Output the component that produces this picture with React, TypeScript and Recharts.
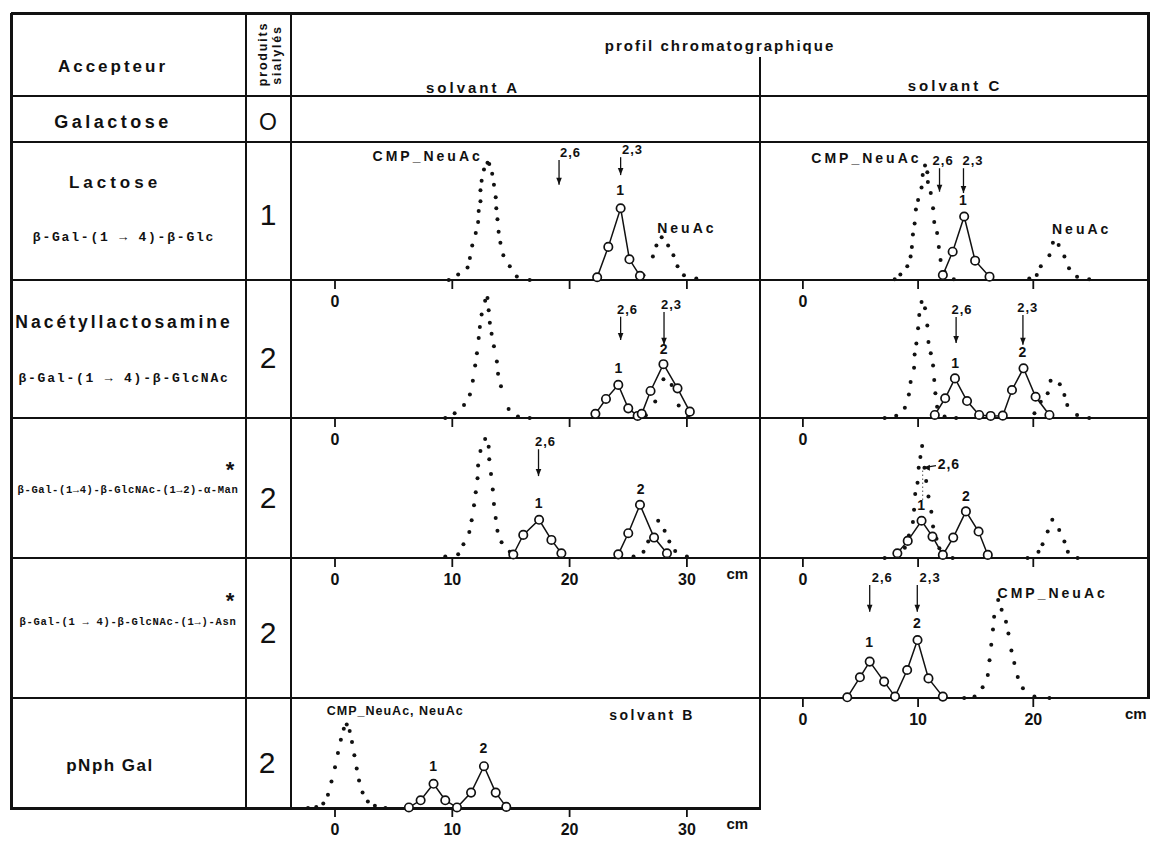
import React from 'react';
import { ComposedChart, Line, XAxis, YAxis, ReferenceLine, ReferenceDot } from 'recharts';

// Chromatographic profiles: [migration distance (cm), relative radioactivity (%)]
// Dotted profiles = reference compounds, open circles = sialylated products.

// Lactose, solvent A
const lacA_cmp = [[9.7,0],[10.5,4],[11.3,9],[11.5,16],[11.7,25],[12.0,34],[12.2,42],[12.25,50],[12.4,57],[12.4,65],[12.5,72],[12.7,80],[13.0,85],[13.15,84],[13.4,77],[13.55,69],[13.7,60],[13.75,52],[13.85,44],[13.95,35],[14.1,27],[14.35,18],[14.9,10],[15.5,2.5],[16.6,0]];
const lacA_prod = [[22.35,2],[23.3,24],[24.35,52],[25.1,15],[26.0,3]];
const lacA_neuac = [[26.3,3.5],[27.1,17],[27.4,25],[27.85,31],[28.4,25],[28.85,18],[29.2,10],[29.75,3.5],[30.8,1]];

// Lactose, solvent C
const lacC_cmp = [[7.97,0.5],[8.46,4],[9.06,10],[9.35,17],[9.46,24],[9.55,33],[9.7,41],[9.81,51],[10.0,58],[10.3,67],[10.4,76],[10.6,83],[10.8,78],[10.85,71],[11.1,63],[11.3,52],[11.4,42],[11.65,34],[11.8,24],[11.95,14.5],[12.3,6],[13.1,0.5]];
const lacC_prod = [[12.15,3.6],[13.0,20.5],[14.0,46],[14.95,14],[16.2,2.4]];
const lacC_neuac = [[19.65,1],[20.3,3.6],[20.65,10],[21.4,18],[21.7,27],[22.2,25.4],[22.7,17],[23.1,8.5],[23.8,2.4],[24.85,0.5]];

// N-acetyllactosamine, solvent A
const nacA_cmp = [[9.4,0],[10.2,3.4],[11.0,9.4],[11.5,17],[11.75,27],[11.95,38],[12.1,47],[12.25,58],[12.35,66],[12.5,75],[12.8,85],[13.0,87],[13.1,78],[13.2,69],[13.35,61],[13.55,52],[13.8,41],[13.9,32],[14.15,23],[14.8,6.5],[15.6,1],[16.6,0]];
const nacA_neuac = [[26.5,2],[27.3,12],[28.0,28],[28.7,24],[29.3,9],[30.1,1]];
const nacA_prod = [[22.2,3],[23.1,13.8],[24.15,24],[25.0,7],[25.8,1.5],[26.15,3],[26.9,19.6],[28.0,39],[29.2,21.5],[30.25,4.6]];

// N-acetyllactosamine, solvent C
const nacC_cmp = [[7.1,0],[8.1,1.7],[8.85,7.5],[9.2,17],[9.35,26],[9.65,36.5],[9.7,46],[9.85,54],[10.0,65],[10.1,74.6],[10.3,84],[10.6,79.5],[10.8,67],[10.9,55],[11.1,47],[11.3,38],[11.4,27.5],[11.5,18],[11.65,8.2],[12.3,1],[13.3,0]];
const nacC_neuac = [[20.1,3.4],[20.65,11.8],[21.25,18],[21.5,27],[22.3,24.4],[22.7,16.7],[22.95,9.4],[23.8,2.2],[24.85,0]];
const nacC_prod = [[11.45,2.2],[12.35,14.3],[13.2,28.7],[14.25,12.3],[15.3,2.2],[16.3,1.5],[17.35,1.7],[18.15,20.3],[19.15,36],[20.2,15.4],[21.4,2.2]];

// Gal-GlcNAc-Man, solvent A
const manA_cmp = [[9.4,1],[10.5,2.6],[10.95,9.8],[11.45,18.5],[11.65,27],[11.85,37.6],[12.0,47],[12.15,57],[12.2,66],[12.4,76.5],[12.8,85],[13.1,79.4],[13.15,70.5],[13.3,60],[13.45,49],[13.55,38.6],[13.7,28.6],[13.85,19.4],[14.2,11.3],[14.9,4.5]];
const manA_neuac = [[25.45,1],[26.3,4.5],[26.7,11.7],[27.55,26.6],[28.1,19.4],[28.5,11.7],[29.0,5],[30.0,1]];
const manA_prod1 = [[15.2,2.5],[16.05,16.5],[17.4,27.3],[18.45,12.9],[19.3,3.4]];
const manA_prod2 = [[24.15,2.6],[25.0,17.7],[26.0,38],[27.2,14.6],[28.3,3.4]];

// Gal-GlcNAc-Man, solvent C
const manC_cmp = [[7.1,0],[8.1,1.7],[8.85,7.4],[9.2,16],[9.55,25.7],[9.65,34.5],[9.75,45.8],[9.95,53.7],[10.05,64.5],[10.2,72.2],[10.35,80],[10.55,64.5],[10.7,55],[10.9,44],[11.15,33],[11.3,22.5],[11.6,13.7],[11.85,7],[13.0,0]];
const manC_neuac = [[19.5,0],[20.45,4.5],[20.8,9.8],[21.25,18.9],[21.65,27.3],[22.25,20],[22.7,11.7],[23.0,4.5],[23.85,0]];
const manC_prod = [[8.2,3.4],[9.1,12.2],[10.3,26.6],[11.25,15.3],[12.15,2.2],[13.05,14.6],[14.15,33.3],[15.25,18.9],[16.05,2.2]];

// Gal-GlcNAc-Asn, solvent C
const asnC_prod = [[3.85,0.5],[4.95,14.8],[5.8,26],[7.05,11.7],[8.0,1],[9.05,20],[9.95,41.4],[10.9,14],[12.15,1]];
const asnC_cmp = [[14.0,0],[14.9,1],[15.6,7.6],[16.05,16.4],[16.2,27],[16.35,38],[16.5,49],[16.6,58],[16.95,70],[17.25,63],[17.63,54.5],[17.84,46],[18.1,34],[18.35,25],[18.65,15],[19.1,7],[20.1,1],[21.4,0]];

// pNph Gal, solvent B
const pnB_cmp = [[-2.3,0],[-1.6,1],[-1.0,4],[-0.6,12],[-0.3,24],[0.0,37],[0.25,50],[0.5,62],[0.75,72],[1.0,76],[1.25,70],[1.45,60],[1.65,48],[1.85,36],[2.05,25],[2.35,14],[2.8,6],[3.4,2],[4.3,0]];
const pnB_prod = [[6.3,0.5],[7.3,7],[8.4,22],[9.4,7],[10.4,0.5],[11.6,14],[12.7,38],[13.7,14],[14.6,1]];

// Standards (arrows): position (cm), arrow start / tip (%), name and where the name starts (cm)
const lacA_std = [{ x: 19.1, from: 87, to: 69, text: '2,6', tx: 19.18 }, { x: 24.35, from: 89, to: 76, text: '2,3', tx: 24.47 }];
const lacC_std = [{ x: 11.86, from: 81, to: 64, text: '2,6', tx: 11.26 }, { x: 13.94, from: 81, to: 63, text: '2,3', tx: 13.85 }];
const nacA_std = [{ x: 24.35, from: 73.4, to: 56.5, text: '2,6', tx: 24.04 }, { x: 28.05, from: 76.8, to: 53, text: '2,3', tx: 27.79 }];
const nacC_std = [{ x: 13.3, from: 73.2, to: 54.3, text: '2,6', tx: 12.9 }, { x: 19.1, from: 74.6, to: 53, text: '2,3', tx: 18.6 }];
const manA_std = [{ x: 17.35, from: 77.7, to: 58.5, text: '2,6', tx: 17.05 }];
const asnC_std = [{ x: 5.8, from: 80.7, to: 61.6, text: '2,6', tx: 5.97 }, { x: 9.93, from: 80.7, to: 61.6, text: '2,3', tx: 10.13 }];

// Peak names
const lacA_names = [{ x: 12.6, y: 90, text: 'CMP_NeuAc', align: 'end' }, { x: 24.35, y: 65, text: '1' }, { x: 30.0, y: 38, text: 'NeuAc' }];
const lacC_names = [{ x: 10.3, y: 88.4, text: 'CMP_NeuAc', align: 'end' }, { x: 13.94, y: 58, text: '1' }, { x: 24.2, y: 37, text: 'NeuAc' }];
const nacA_names = [{ x: 24.2, y: 36.2, text: '1' }, { x: 28.05, y: 50, text: '2' }];
const nacC_names = [{ x: 13.25, y: 40, text: '1' }, { x: 19.1, y: 47.8, text: '2' }];
const manA_names = [{ x: 17.4, y: 39.6, text: '1' }, { x: 26.1, y: 49.6, text: '2' }];
const manC_names = [{ x: 10.3, y: 38, text: '1' }, { x: 14.2, y: 44, text: '2' }, { x: 11.7, y: 67, text: '2,6', align: 'start' }];
const asnC_names = [{ x: 5.8, y: 40, text: '1' }, { x: 9.95, y: 53.6, text: '2' }, { x: 16.9, y: 75, text: 'CMP_NeuAc', align: 'start' }];
const pnB_names = [{ x: 8.4, y: 38, text: '1' }, { x: 12.7, y: 55, text: '2' }, { x: -0.7, y: 88, text: 'CMP_NeuAc, NeuAc', align: 'start' }];

// Axis ticks (cm)
const ticksA = [0, 10, 20, 30];
const ticksC = [0, 10, 20];
const zeroOnly = [0];

const SANS = '"Liberation Sans", Arial, Helvetica, sans-serif';
const MONO = '"Liberation Mono", "DejaVu Sans Mono", monospace';
const INK = '#111';
const AXIS_H = 36;

// x scales of the two columns (cm shown across each panel)
const DOMAIN_A: [number, number] = [(291 - 335) / 11.73, (760 - 335) / 11.73];
const DOMAIN_C: [number, number] = [(760 - 803) / 11.55, (1149 - 803) / 11.55];

const toPts = (a: number[][]) => a.map(([x, y]) => ({ x, y }));

function Panel(props: any) {
  const { left, top, width, height, domain, ticks, tickLabels, unitAt, dotted = [], traces = [], arrows = [], names = [], pointer, nameSize = 14 } = props;
  const allTicks = unitAt != null ? [...ticks, unitAt] : ticks;
  const renderTick = (p: any) => {
    const v = p.payload.value;
    if (unitAt != null && v === unitAt) {
      return (
        <text x={p.x} y={height + 15} textAnchor="middle" dominantBaseline="central" fontFamily={SANS} fontWeight={700} fontSize={15} fill={INK}>cm</text>
      );
    }
    return (
      <g>
        <line x1={p.x} x2={p.x} y1={height} y2={height + 9} stroke={INK} strokeWidth={1.8} />
        {tickLabels.includes(v) && (
          <text x={p.x} y={height + 21} textAnchor="middle" dominantBaseline="central" fontFamily={SANS} fontWeight={700} fontSize={16} fill={INK}>{v}</text>
        )}
      </g>
    );
  };
  const textStyle = { letterSpacing: nameSize > 13 ? '3px' : '1px' };
  return (
    <div style={{ position: 'absolute', left, top }}>
      <ComposedChart width={width} height={height + AXIS_H} margin={{ top: 0, right: 0, bottom: 0, left: 0 }}>
        <XAxis type="number" dataKey="x" domain={domain} ticks={allTicks} interval={0} axisLine={false} tickLine={false} height={AXIS_H} tick={renderTick} />
        <YAxis type="number" domain={[0, 100]} hide />
        {dotted.map((d: number[][], i: number) => (
          <Line key={'d' + i} data={toPts(d)} dataKey="y" type="linear" stroke="none" dot={{ r: 2, fill: INK, stroke: 'none' }} activeDot={false} isAnimationActive={false} />
        ))}
        {traces.map((d: number[][], i: number) => (
          <Line key={'t' + i} data={toPts(d)} dataKey="y" type="linear" stroke={INK} strokeWidth={1.5} dot={{ r: 4.2, fill: '#fff', stroke: INK, strokeWidth: 1.7 }} activeDot={false} isAnimationActive={false} />
        ))}
        {arrows.map((a: any, i: number) => (
          <ReferenceLine key={'al' + i} segment={[{ x: a.x, y: a.from }, { x: a.x, y: a.to }]} stroke={INK} strokeWidth={1.3} ifOverflow="visible" />
        ))}
        {arrows.map((a: any, i: number) => (
          <ReferenceDot key={'ah' + i} x={a.x} y={a.to} r={0} ifOverflow="visible"
            shape={(p: any) => <path d={`M${p.cx - 2.8},${p.cy - 7}L${p.cx + 2.8},${p.cy - 7}L${p.cx},${p.cy}Z`} fill={INK} />} />
        ))}
        {arrows.map((a: any, i: number) => (
          <ReferenceDot key={'at' + i} x={a.tx} y={a.from} r={0} ifOverflow="visible"
            shape={(p: any) => (
              <text x={p.cx} y={p.cy - 3} textAnchor="start" fontFamily={SANS} fontWeight={700} fontSize={13} style={{ letterSpacing: '1px' }} fill={INK}>{a.text}</text>
            )} />
        ))}
        {pointer && (
          <ReferenceLine segment={[{ x: pointer.x, y: pointer.y }, { x: pointer.tipX, y: pointer.tipY }]} stroke={INK} strokeWidth={1.2} ifOverflow="visible" />
        )}
        {pointer && (
          <ReferenceLine segment={[{ x: pointer.tipX - 0.1, y: pointer.tipY - 2 }, { x: pointer.tipX - 0.1, y: pointer.dropY }]} stroke="#555" strokeWidth={1} strokeDasharray="1.5 2.5" ifOverflow="visible" />
        )}
        {pointer && (
          <ReferenceDot x={pointer.tipX} y={pointer.tipY} r={0} ifOverflow="visible"
            shape={(p: any) => <path d={`M${p.cx},${p.cy}L${p.cx + 6},${p.cy - 3}L${p.cx + 6},${p.cy + 3}Z`} fill={INK} />} />
        )}
        {names.map((n: any, i: number) => (
          <ReferenceDot key={'n' + i} x={n.x} y={n.y} r={0} ifOverflow="visible"
            shape={(p: any) => (
              <text x={p.cx} y={p.cy} textAnchor={n.align || 'middle'} dominantBaseline="central" fontFamily={SANS} fontWeight={700}
                fontSize={n.text.length <= 3 ? 14 : nameSize} style={n.text.length <= 3 ? { letterSpacing: '1px' } : textStyle} fill={INK}>{n.text}</text>
            )} />
        ))}
      </ComposedChart>
    </div>
  );
}

function Txt(props: any) {
  const { x, y, size, spacing = 0, weight = 700, family = SANS, rotate = 0, lh = 1, children } = props;
  return (
    <div style={{
      position: 'absolute', left: x, top: y, transform: `translate(-50%, -50%) rotate(${rotate}deg)`,
      fontFamily: family, fontSize: size, fontWeight: weight, letterSpacing: spacing, whiteSpace: 'nowrap',
      lineHeight: lh, color: INK,
    }}>{children}</div>
  );
}

const HL = ({ x1, x2, y, w = 2.5 }: any) => (
  <div style={{ position: 'absolute', left: x1, top: y - w / 2, width: x2 - x1, height: w, background: INK }} />
);
const VL = ({ x, y1, y2, w = 2.5 }: any) => (
  <div style={{ position: 'absolute', left: x - w / 2, top: y1, width: w, height: y2 - y1, background: INK }} />
);

// Row boundaries
const R = { top: 13, head: 96, gal: 142, lac: 280, nac: 418, man: 558, asn: 698, pn: 808 };
const X = { left: 11, c1: 246, c2: 291, c3: 760, right: 1148 };

export default function App() {
  const wA = X.c3 - X.c2;
  const wC = X.right - X.c3;
  return (
    <div style={{ position: 'absolute', left: 0, top: 0, width: 1151, height: 867, background: '#fff', overflow: 'hidden' }}>
      {/* grid */}
      <HL x1={X.left} x2={X.right + 1.5} y={R.top} w={3} />
      {[R.head, R.gal, R.lac, R.nac, R.man, R.asn].map((y) => <HL key={y} x1={X.left} x2={X.right + 1.5} y={y} />)}
      <HL x1={X.left} x2={X.c3 + 1.25} y={R.pn} w={3} />
      <VL x={X.left} y1={R.top} y2={R.pn + 1.5} w={3} />
      <VL x={X.c1} y1={R.top} y2={R.pn} />
      <VL x={X.c2} y1={R.top} y2={R.pn} />
      <VL x={X.c3} y1={57} y2={R.pn} />
      <VL x={X.right} y1={R.top} y2={R.asn + 1} w={3} />

      {/* header */}
      <Txt x={113} y={66} size={17} spacing={3}>Accepteur</Txt>
      <Txt x={263} y={54} size={12.5} spacing={1.8} rotate={-90}>produits</Txt>
      <Txt x={277} y={55} size={12.5} spacing={1.8} rotate={-90}>sialylés</Txt>
      <Txt x={720} y={45} size={15} spacing={2}>profil chromatographique</Txt>
      <Txt x={473} y={87} size={15} spacing={3}>solvant A</Txt>
      <Txt x={955} y={85} size={15} spacing={3}>solvant C</Txt>

      {/* acceptors */}
      <Txt x={113} y={122} size={18} spacing={3.5}>Galactose</Txt>
      <Txt x={115} y={182} size={17} spacing={4}>Lactose</Txt>
      <Txt x={124} y={237} size={13} spacing={1.8} family={MONO}>β-Gal-(1 → 4)-β-Glc</Txt>
      <Txt x={124} y={323} size={17.5} spacing={3}>Nacétyllactosamine</Txt>
      <Txt x={124} y={378} size={13} spacing={1.8} family={MONO}>β-Gal-(1 → 4)-β-GlcNAc</Txt>
      <Txt x={128} y={490} size={10.5} spacing={0.6} family={MONO}>β-Gal-(1→4)-β-GlcNAc-(1→2)-α-Man</Txt>
      <Txt x={230} y={470} size={22} lh="10px">*</Txt>
      <Txt x={128} y={622} size={10.5} spacing={0.7} family={MONO}>β-Gal-(1 → 4)-β-GlcNAc-(1→)-Asn</Txt>
      <Txt x={230} y={601} size={22} lh="10px">*</Txt>
      <Txt x={110} y={765} size={17} spacing={1.5}>pNph Gal</Txt>

      {/* number of sialylated products */}
      <Txt x={268} y={122} size={23} weight={400}>O</Txt>
      <Txt x={268} y={215} size={30} weight={400}>1</Txt>
      <Txt x={268} y={358} size={30} weight={400}>2</Txt>
      <Txt x={268} y={498} size={30} weight={400}>2</Txt>
      <Txt x={268} y={633} size={30} weight={400}>2</Txt>
      <Txt x={267} y={763} size={30} weight={400}>2</Txt>

      {/* profiles */}
      <Panel left={X.c2} top={R.gal} width={wA} height={R.lac - R.gal} domain={DOMAIN_A} ticks={ticksA} tickLabels={zeroOnly}
        dotted={[lacA_cmp, lacA_neuac]} traces={[lacA_prod]} arrows={lacA_std} names={lacA_names} />
      <Panel left={X.c3} top={R.gal} width={wC} height={R.lac - R.gal} domain={DOMAIN_C} ticks={ticksC} tickLabels={zeroOnly}
        dotted={[lacC_cmp, lacC_neuac]} traces={[lacC_prod]} arrows={lacC_std} names={lacC_names} />

      <Panel left={X.c2} top={R.lac} width={wA} height={R.nac - R.lac} domain={DOMAIN_A} ticks={ticksA} tickLabels={zeroOnly}
        dotted={[nacA_cmp, nacA_neuac]} traces={[nacA_prod]} arrows={nacA_std} names={nacA_names} />
      <Panel left={X.c3} top={R.lac} width={wC} height={R.nac - R.lac} domain={DOMAIN_C} ticks={ticksC} tickLabels={zeroOnly}
        dotted={[nacC_cmp, nacC_neuac]} traces={[nacC_prod]} arrows={nacC_std} names={nacC_names} />

      <Panel left={X.c2} top={R.nac} width={wA} height={R.man - R.nac} domain={DOMAIN_A} ticks={ticksA} tickLabels={ticksA} unitAt={34.3}
        dotted={[manA_cmp, manA_neuac]} traces={[manA_prod1, manA_prod2]} arrows={manA_std} names={manA_names} />
      <Panel left={X.c3} top={R.nac} width={wC} height={R.man - R.nac} domain={DOMAIN_C} ticks={ticksC} tickLabels={zeroOnly}
        dotted={[manC_cmp, manC_neuac]} traces={[manC_prod]} names={manC_names}
        pointer={{ x: 11.55, y: 66, tipX: 10.5, tipY: 64.5, dropY: 40 }} />

      <Panel left={X.c3} top={R.man} width={wC} height={R.asn - R.man} domain={DOMAIN_C} ticks={ticksC} tickLabels={ticksC} unitAt={28.9}
        dotted={[asnC_cmp]} traces={[asnC_prod]} arrows={asnC_std} names={asnC_names} />

      <Panel left={X.c2} top={R.asn} width={wA} height={R.pn - R.asn} domain={DOMAIN_A} ticks={ticksA} tickLabels={ticksA} unitAt={34.3}
        dotted={[pnB_cmp]} traces={[pnB_prod]} names={pnB_names} nameSize={12.5} />
      <Txt x={652} y={715} size={14} spacing={2.5}>solvant B</Txt>
    </div>
  );
}
